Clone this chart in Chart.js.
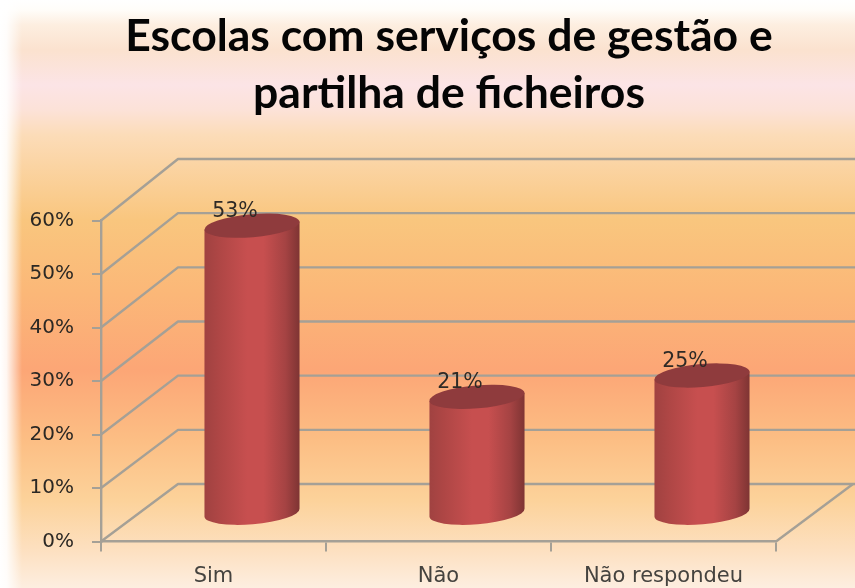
<!DOCTYPE html>
<html><head><meta charset="utf-8">
<style>html,body{margin:0;padding:0;background:#fff;overflow:hidden}canvas{display:block;filter:blur(.55px)}</style>
<script src="https://cdn.jsdelivr.net/npm/chart.js@4/dist/chart.umd.min.js"></script>
</head><body>
<canvas id="c" width="855" height="588"></canvas>
<script>
const titleLines = ['Escolas com serviços de gestão e', 'partilha de ficheiros'];
const categories = ['Sim', 'Não', 'Não respondeu'];
const shares = [53, 21, 25];
const yMax = 60;
const yStep = 10;

const DEPTH_X = 77, DEPTH_Y = 57.5, DEPTH_Y_TOP = 61.5;
const GRID = '#a5a096';

const scene = {
  id: 'scene',
  afterLayout(chart) { chart.titleBlock.left += 61; chart.titleBlock.right += 61; },
  beforeDraw(chart) {
    const {ctx, width, height} = chart;
    const g = ctx.createLinearGradient(0, 0, 0, height);
    [[0,'#ffffff'],[10,'#fffdf9'],[25,'#fdeee0'],[50,'#fbe2cf'],[85,'#fce4e6'],[110,'#fce2d8'],[135,'#fcdcb8'],
     [220,'#f9c67e'],[290,'#fbb878'],[370,'#fca676'],[440,'#fcbe84'],[500,'#fcd29a'],[550,'#fde0c0'],[588,'#fdeee0']]
      .forEach(([y,c]) => g.addColorStop(y / height, c));
    ctx.fillStyle = g; ctx.fillRect(0, 0, width, height);
    const e = ctx.createLinearGradient(0, 0, 22, 0);
    e.addColorStop(0, 'rgba(255,255,255,1)'); e.addColorStop(.3, 'rgba(255,255,255,.9)'); e.addColorStop(1, 'rgba(255,255,255,0)');
    ctx.fillStyle = e; ctx.fillRect(0, 0, 22, height);
  },
  beforeDatasetsDraw(chart) {
    const {ctx, chartArea: a, scales: {y}} = chart;
    ctx.save();
    ctx.strokeStyle = GRID; ctx.lineWidth = 2.4; ctx.lineJoin = 'round';
    y.ticks.forEach(t => {
      const py = y.getPixelForValue(t.value);
      const d = DEPTH_Y + (DEPTH_Y_TOP - DEPTH_Y) * t.value / yMax;
      ctx.beginPath();
      ctx.moveTo(a.left, py);
      ctx.lineTo(a.left + DEPTH_X, py - d);
      ctx.lineTo(a.right + DEPTH_X + 2, py - d);
      ctx.stroke();
    });
    ctx.beginPath();
    ctx.moveTo(a.right, y.getPixelForValue(0));
    ctx.lineTo(a.right + DEPTH_X, y.getPixelForValue(0) - DEPTH_Y);
    ctx.stroke();
    ctx.restore();
  },
  afterDatasetsDraw(chart) {
    const {ctx, scales: {y}} = chart;
    const TILT = -4.8 * Math.PI / 180;
    const ry = 11.5;
    chart.getDatasetMeta(0).data.forEach((bar, i) => {
      const cx = bar.x + DEPTH_X / 2;
      const rx = bar.width / 2;
      const base = y.getPixelForValue(0) - DEPTH_Y / 2;
      const top = bar.y - DEPTH_Y / 2 - 3.5;
      const g = ctx.createLinearGradient(cx - rx, 0, cx + rx, 0);
      g.addColorStop(0, '#a04241'); g.addColorStop(.15, '#ae4645'); g.addColorStop(.45, '#c74f4f');
      g.addColorStop(.62, '#c74f4f'); g.addColorStop(.85, '#a54343'); g.addColorStop(1, '#7e3433');
      ctx.save();
      ctx.fillStyle = g;
      ctx.beginPath();
      const dx = rx * Math.cos(TILT), dy = rx * Math.sin(TILT);
      ctx.moveTo(cx - dx, top - dy);
      ctx.lineTo(cx - dx, base - dy);
      ctx.ellipse(cx, base, rx, ry, TILT, Math.PI, 0, true);
      ctx.lineTo(cx + dx, top + dy);
      ctx.closePath();
      ctx.fill();
      ctx.fillStyle = '#8f3b3d';
      ctx.beginPath();
      ctx.ellipse(cx, top, rx, ry, TILT, 0, Math.PI * 2);
      ctx.fill();
      ctx.fillStyle = '#2e2a26';
      ctx.font = '20.5px "DejaVu Sans"';
      ctx.textAlign = 'center'; ctx.textBaseline = 'middle';
      ctx.fillText(shares[i] + '%', cx - 17, top - 14);
      ctx.restore();
    });
  }
};

new Chart(document.getElementById('c'), {
  type: 'bar',
  data: { labels: categories, datasets: [{ data: shares, backgroundColor: 'rgba(0,0,0,0)', borderWidth: 0,
    barPercentage: 0.424, categoryPercentage: 1 }] },
  options: {
    responsive: false, animation: false,
    layout: { padding: { left: 0, right: 79, top: 0, bottom: 0 } },
    plugins: {
      legend: { display: false }, tooltip: { enabled: false },
      title: { display: true, text: titleLines, color: '#050505',
        font: { family: 'Lato', weight: 'bold', size: 44.5, lineHeight: 57 / 44.5 },
        padding: { top: 8, bottom: 98.5 } }
    },
    scales: {
      x: {
        afterFit(s) { s.height = 46.5; },
        border: { color: GRID, width: 2.4 },
        grid: { offset: true, drawOnChartArea: false, tickLength: 10, color: GRID, lineWidth: 2 },
        ticks: { color: '#45433f', font: { family: 'DejaVu Sans', size: 21 }, padding: 12, maxRotation: 0, autoSkip: false }
      },
      y: {
        min: 0, max: yMax,
        afterFit(s) { s.width = 101; },
        border: { color: GRID, width: 2.4 },
        grid: { drawOnChartArea: false, tickLength: 9, color: GRID, lineWidth: 2 },
        ticks: { stepSize: yStep, color: '#2b2824', font: { family: 'DejaVu Sans', size: 20 }, padding: 18, callback: v => v + '%' }
      }
    }
  },
  plugins: [scene]
});
</script>
</body></html>
